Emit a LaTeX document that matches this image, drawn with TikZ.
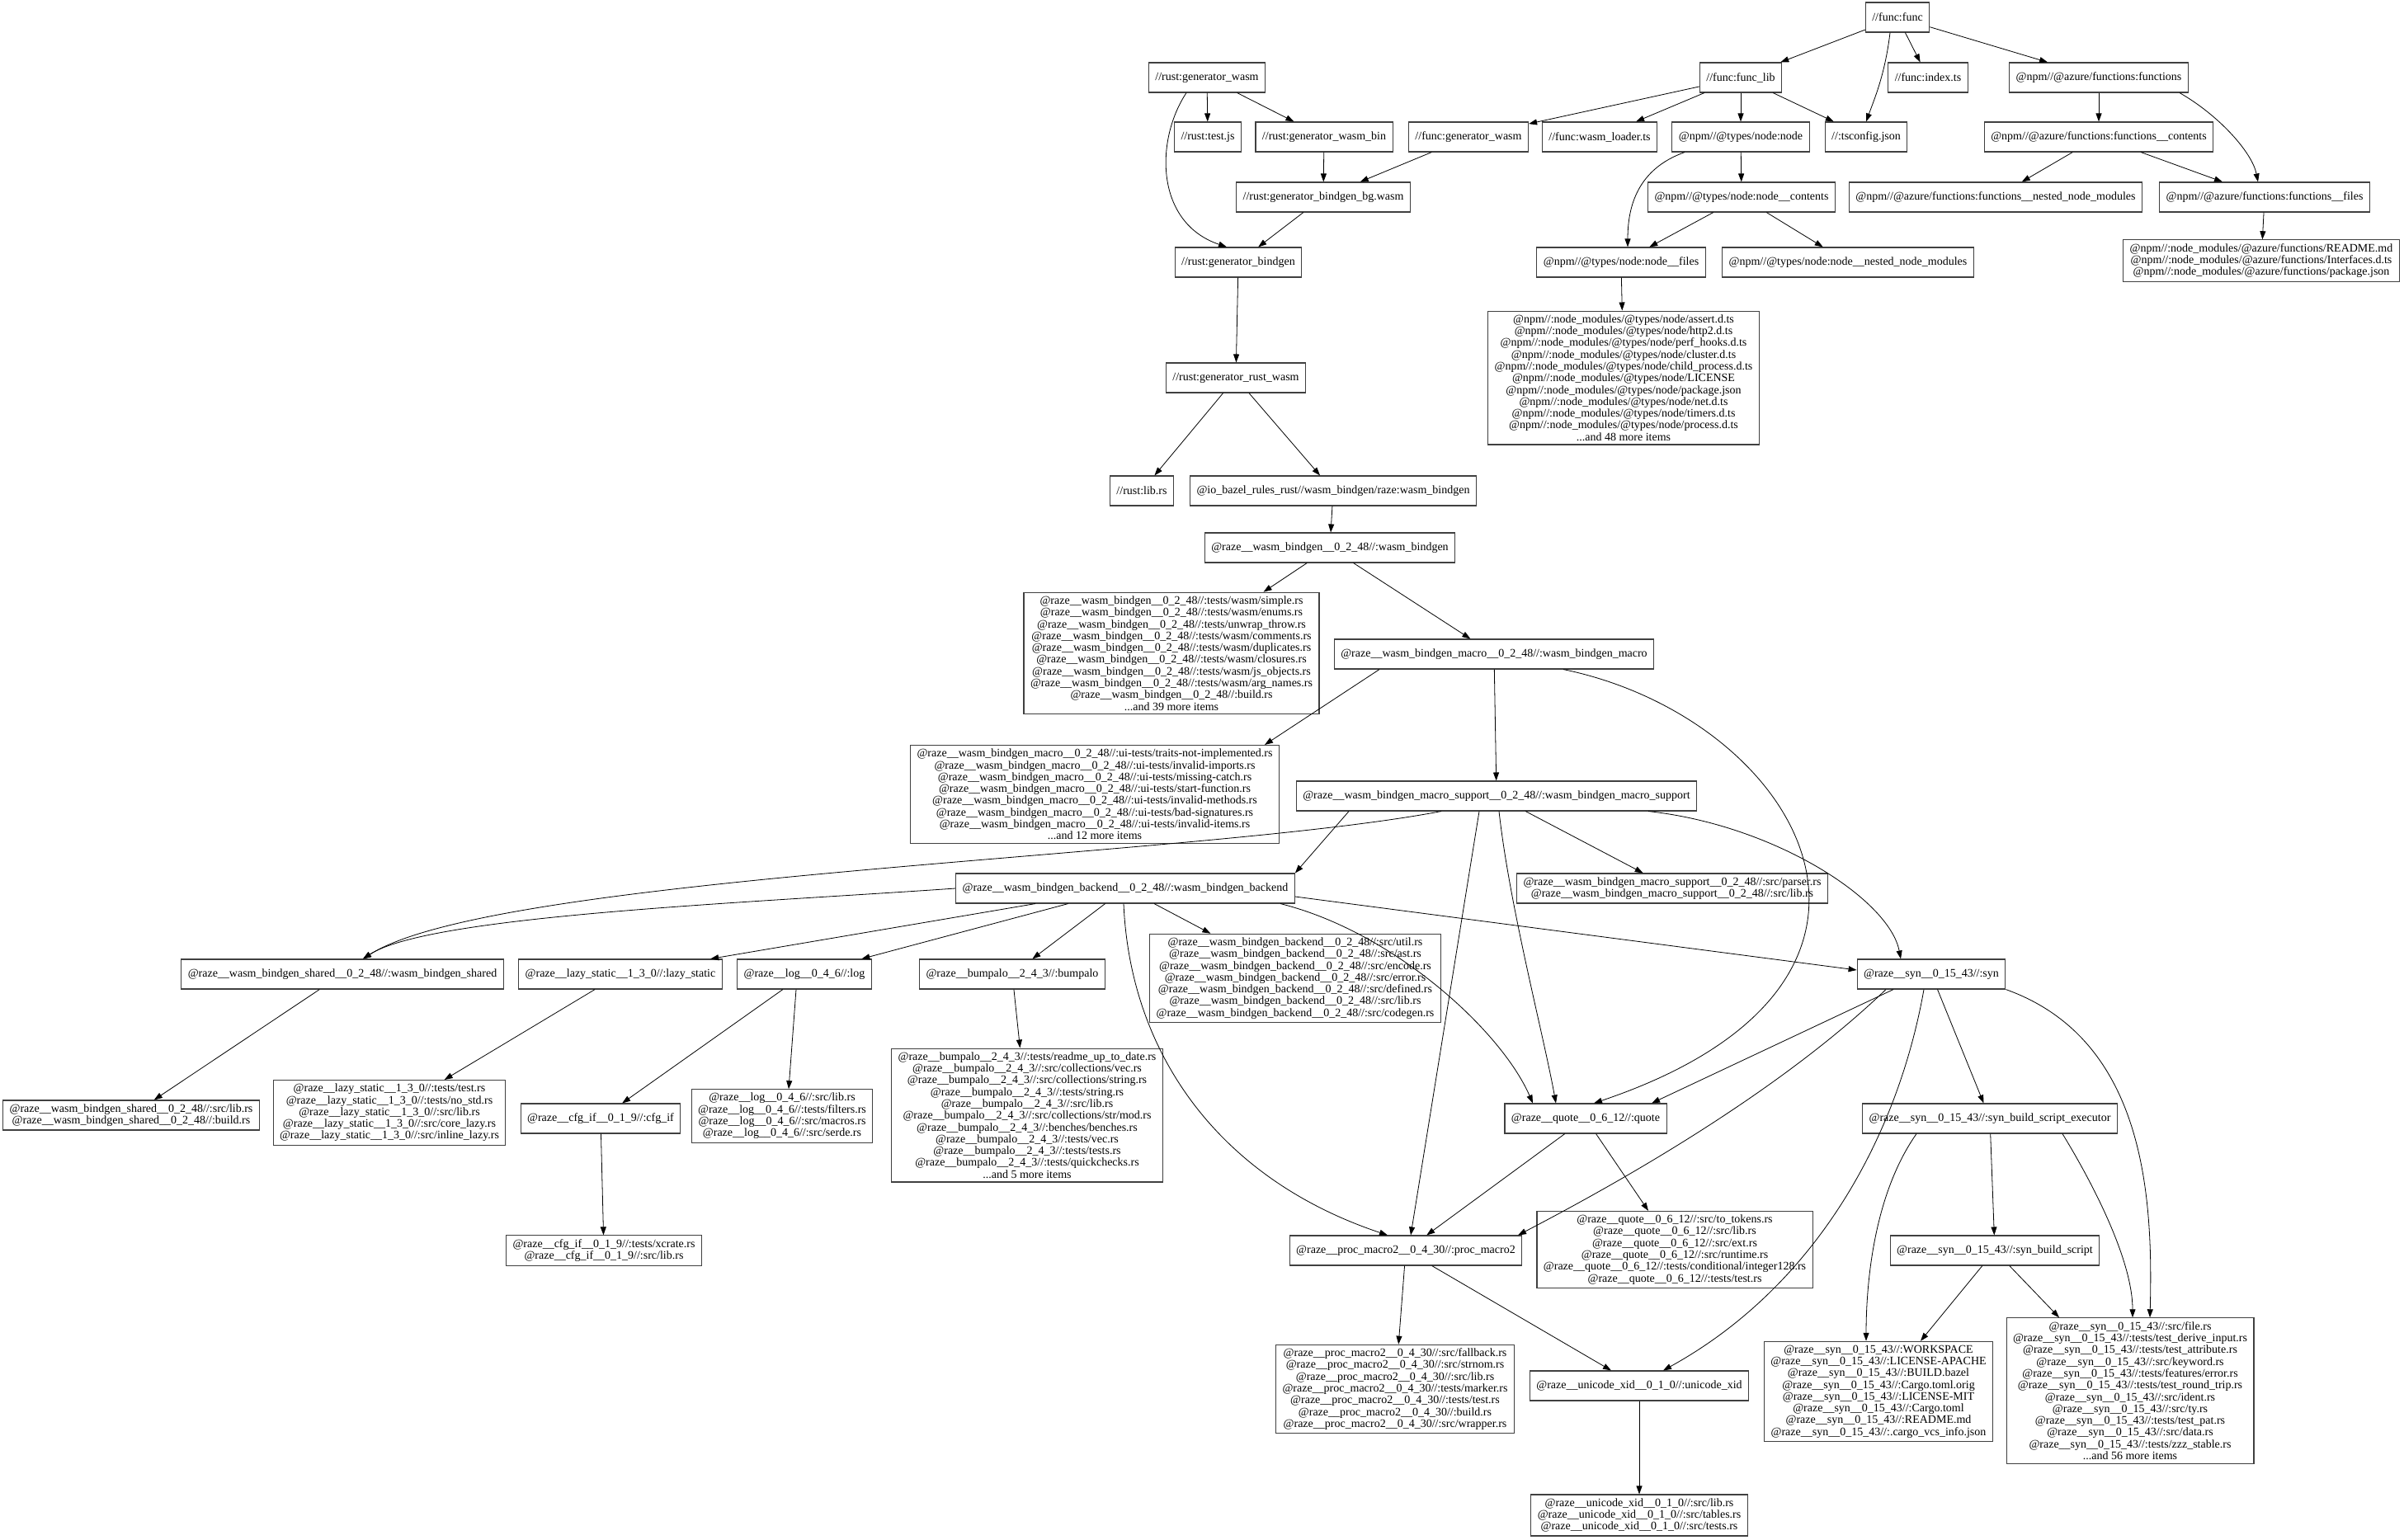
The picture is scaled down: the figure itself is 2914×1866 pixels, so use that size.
\documentclass[tikz,border=0pt]{standalone}
\usepackage{fontspec}
\setmainfont{Liberation Serif}
\usetikzlibrary{arrows.meta}
\newcommand\pwb{@raze\_\_wasm\_bindgen\_\_0\_2\_48//:}
\newcommand\pwbm{@raze\_\_wasm\_bindgen\_macro\_\_0\_2\_48//:}
\newcommand\pwbms{@raze\_\_wasm\_bindgen\_macro\_support\_\_0\_2\_48//:}
\newcommand\pwbb{@raze\_\_wasm\_bindgen\_backend\_\_0\_2\_48//:}
\newcommand\pwbs{@raze\_\_wasm\_bindgen\_shared\_\_0\_2\_48//:}
\newcommand\plazy{@raze\_\_lazy\_static\_\_1\_3\_0//:}
\newcommand\plog{@raze\_\_log\_\_0\_4\_6//:}
\newcommand\pbump{@raze\_\_bumpalo\_\_2\_4\_3//:}
\newcommand\psyn{@raze\_\_syn\_\_0\_15\_43//:}
\newcommand\pcfg{@raze\_\_cfg\_if\_\_0\_1\_9//:}
\newcommand\pquote{@raze\_\_quote\_\_0\_6\_12//:}
\newcommand\ppm{@raze\_\_proc\_macro2\_\_0\_4\_30//:}
\newcommand\puxid{@raze\_\_unicode\_xid\_\_0\_1\_0//:}
\newcommand\pnode{@npm//:node\_modules/@types/node/}
\newcommand\pazure{@npm//:node\_modules/@azure/functions/}
\begin{document}
\begin{tikzpicture}[x=1pt,y=-1pt,
  target/.style={draw=black!75,line width=1.1pt,fill=white,align=center,
    font=\fontsize{14}{14.3}\selectfont,inner xsep=8pt,inner ysep=4.5pt,
    minimum height=36pt,minimum width=54pt},
  dep/.style={-{Triangle[length=10pt,width=7pt]},line width=0.8pt}]
  \useasboundingbox (0,0) rectangle (2914,1866);

  \node[target] (func) at (2300,21) {//func:func};
  \node[target] (funclib) at (2110,94) {//func:func\_lib};
  \node[target] (funcidx) at (2337,94) {//func:index.ts};
  \node[target] (azfn) at (2544,94) {@npm//@azure/functions:functions};
  \node[target] (rgw) at (1463,94) {//rust:generator\_wasm};
  \node[target] (rtest) at (1464,166) {//rust:test.js};
  \node[target] (rbin) at (1605,166) {//rust:generator\_wasm\_bin};
  \node[target] (fgw) at (1780,166) {//func:generator\_wasm};
  \node[target] (fload) at (1939,166) {//func:wasm\_loader.ts};
  \node[target] (ntn) at (2110,166) {@npm//@types/node:node};
  \node[target] (tscfg) at (2262,166) {//:tsconfig.json};
  \node[target] (azcont) at (2544,166) {@npm//@azure/functions:functions\_\_contents};
  \node[target] (rbg) at (1604,239) {//rust:generator\_bindgen\_bg.wasm};
  \node[target] (ntncont) at (2111,239) {@npm//@types/node:node\_\_contents};
  \node[target] (aznest) at (2419,239) {@npm//@azure/functions:functions\_\_nested\_node\_modules};
  \node[target] (azfiles) at (2745,239) {@npm//@azure/functions:functions\_\_files};
  \node[target] (rgb) at (1501,318) {//rust:generator\_bindgen};
  \node[target] (ntnfiles) at (1965,318) {@npm//@types/node:node\_\_files};
  \node[target] (ntnnest) at (2240,318) {@npm//@types/node:node\_\_nested\_node\_modules};
  \node[target] (azlist) at (2741,316) {\pazure README.md\\ \pazure Interfaces.d.ts\\ \pazure package.json};
  \node[target] (ntnlist) at (1968,458) {\pnode assert.d.ts\\ \pnode http2.d.ts\\ \pnode perf\_hooks.d.ts\\
    \pnode cluster.d.ts\\ \pnode child\_process.d.ts\\ \pnode LICENSE\\ \pnode package.json\\
    \pnode net.d.ts\\ \pnode timers.d.ts\\ \pnode process.d.ts\\ ...and 48 more items};
  \node[target] (rrw) at (1498,458) {//rust:generator\_rust\_wasm};
  \node[target] (rlib) at (1384,595) {//rust:lib.rs};
  \node[target] (iobz) at (1616,595) {@io\_bazel\_rules\_rust//wasm\_bindgen/raze:wasm\_bindgen};
  \node[target] (rwb) at (1612,664) {\pwb wasm\_bindgen};
  \node[target] (rwblist) at (1420,792) {\pwb tests/wasm/simple.rs\\ \pwb tests/wasm/enums.rs\\
    \pwb tests/unwrap\_throw.rs\\ \pwb tests/wasm/comments.rs\\ \pwb tests/wasm/duplicates.rs\\
    \pwb tests/wasm/closures.rs\\ \pwb tests/wasm/js\_objects.rs\\ \pwb tests/wasm/arg\_names.rs\\
    \pwb build.rs\\ ...and 39 more items};
  \node[target] (rwbm) at (1811,793) {\pwbm wasm\_bindgen\_macro};
  \node[target] (rwbmlist) at (1327,963) {\pwbm ui-tests/traits-not-implemented.rs\\
    \pwbm ui-tests/invalid-imports.rs\\ \pwbm ui-tests/missing-catch.rs\\ \pwbm ui-tests/start-function.rs\\
    \pwbm ui-tests/invalid-methods.rs\\ \pwbm ui-tests/bad-signatures.rs\\ \pwbm ui-tests/invalid-items.rs\\
    ...and 12 more items};
  \node[target] (rwbms) at (1814,965) {\pwbms wasm\_bindgen\_macro\_support};
  \node[target] (rwbb) at (1364,1077) {\pwbb wasm\_bindgen\_backend};
  \node[target] (rwbmslist) at (2027,1077) {\pwbms src/parser.rs\\ \pwbms src/lib.rs};
  \node[target] (rwbblist) at (1570,1186) {\pwbb src/util.rs\\ \pwbb src/ast.rs\\ \pwbb src/encode.rs\\
    \pwbb src/error.rs\\ \pwbb src/defined.rs\\ \pwbb src/lib.rs\\ \pwbb src/codegen.rs};
  \node[target] (rshared) at (415,1181) {\pwbs wasm\_bindgen\_shared};
  \node[target] (rlazy) at (752,1181) {\plazy lazy\_static};
  \node[target] (rlog) at (975,1181) {\plog log};
  \node[target] (rbump) at (1227,1181) {\pbump bumpalo};
  \node[target] (rsyn) at (2341,1181) {\psyn syn};
  \node[target] (rsharedlist) at (159,1352) {\pwbs src/lib.rs\\ \pwbs build.rs};
  \node[target] (rlazylist) at (472,1349) {\plazy tests/test.rs\\ \plazy tests/no\_std.rs\\ \plazy src/lib.rs\\
    \plazy src/core\_lazy.rs\\ \plazy src/inline\_lazy.rs};
  \node[target] (rloglist) at (948,1353) {\plog src/lib.rs\\ \plog tests/filters.rs\\ \plog src/macros.rs\\ \plog src/serde.rs};
  \node[target] (rcfg) at (728,1356) {\pcfg cfg\_if};
  \node[target] (rbumplist) at (1245,1352) {\pbump tests/readme\_up\_to\_date.rs\\ \pbump src/collections/vec.rs\\
    \pbump src/collections/string.rs\\ \pbump tests/string.rs\\ \pbump src/lib.rs\\
    \pbump src/collections/str/mod.rs\\ \pbump benches/benches.rs\\ \pbump tests/vec.rs\\
    \pbump tests/tests.rs\\ \pbump tests/quickchecks.rs\\ ...and 5 more items};
  \node[target] (rquote) at (1922,1356) {\pquote quote};
  \node[target] (rsbse) at (2412,1356) {\psyn syn\_build\_script\_executor};
  \node[target] (rcfglist) at (732,1516) {\pcfg tests/xcrate.rs\\ \pcfg src/lib.rs};
  \node[target] (rpm2) at (1704,1516) {\ppm proc\_macro2};
  \node[target] (rquotelist) at (2030,1515) {\pquote src/to\_tokens.rs\\ \pquote src/lib.rs\\ \pquote src/ext.rs\\
    \pquote src/runtime.rs\\ \pquote tests/conditional/integer128.rs\\ \pquote tests/test.rs};
  \node[target] (rsbs) at (2418,1516) {\psyn syn\_build\_script};
  \node[target] (rpm2list) at (1691,1684) {\ppm src/fallback.rs\\ \ppm src/strnom.rs\\ \ppm src/lib.rs\\
    \ppm tests/marker.rs\\ \ppm tests/test.rs\\ \ppm build.rs\\ \ppm src/wrapper.rs};
  \node[target] (ruxid) at (1987,1680) {\puxid unicode\_xid};
  \node[target] (rsynmisc) at (2277,1687) {\psyn WORKSPACE\\ \psyn LICENSE-APACHE\\ \psyn BUILD.bazel\\
    \psyn Cargo.toml.orig\\ \psyn LICENSE-MIT\\ \psyn Cargo.toml\\ \psyn README.md\\ \psyn .cargo\_vcs\_info.json};
  \node[target] (rsynsrc) at (2582,1686) {\psyn src/file.rs\\ \psyn tests/test\_derive\_input.rs\\
    \psyn tests/test\_attribute.rs\\ \psyn src/keyword.rs\\ \psyn tests/features/error.rs\\
    \psyn tests/test\_round\_trip.rs\\ \psyn src/ident.rs\\ \psyn src/ty.rs\\ \psyn tests/test\_pat.rs\\
    \psyn src/data.rs\\ \psyn tests/zzz\_stable.rs\\ ...and 56 more items};
  \node[target] (ruxidlist) at (1987,1837) {\puxid src/lib.rs\\ \puxid src/tables.rs\\ \puxid src/tests.rs};

  \draw[dep] (func) -- (funclib);
  \draw[dep] (func) -- (funcidx);
  \draw[dep] ([xshift=-9]func.south) .. controls (2285,90) and (2272,120) .. (tscfg.north);
  \draw[dep] (func) -- (azfn);
  \draw[dep] (rgw) -- (rtest);
  \draw[dep] (rgw) -- (rbin);
  \draw[dep] ([xshift=-25]rgw.south) .. controls (1400,170) and (1400,270) .. ([xshift=-14]rgb.north);
  \draw[dep] (rbin) -- (rbg);
  \draw[dep] (fgw) -- (rbg);
  \draw[dep] (rbg) -- (rgb);
  \draw[dep] (rgb) -- (rrw);
  \draw[dep] (rrw) -- (rlib);
  \draw[dep] (rrw) -- (iobz);
  \draw[dep] (iobz) -- (rwb);
  \draw[dep] (rwb) -- (rwblist);
  \draw[dep] (rwb) -- (rwbm);
  \draw[dep] (funclib) -- (fgw);
  \draw[dep] (funclib) -- (fload);
  \draw[dep] (funclib) -- (ntn);
  \draw[dep] (funclib) -- (tscfg);
  \draw[dep] (ntn) -- (ntncont);
  \draw[dep] ([xshift=-68]ntn.south) .. controls (1985,205) and (1973,250) .. ([xshift=8]ntnfiles.north);
  \draw[dep] (ntncont) -- (ntnfiles);
  \draw[dep] (ntncont) -- (ntnnest);
  \draw[dep] (ntnfiles) -- (ntnlist);
  \draw[dep] (azfn) -- (azcont);
  \draw[dep] ([xshift=98]azfn.south) .. controls (2690,140) and (2730,185) .. ([xshift=-8]azfiles.north);
  \draw[dep] (azcont) -- (aznest);
  \draw[dep] (azcont) -- (azfiles);
  \draw[dep] (azfiles) -- (azlist);
  \draw[dep] ([xshift=-139]rwbm.south) -- ([xshift=206]rwbmlist.north);
  \draw[dep] (rwbm) -- (rwbms);
  \draw[dep] ([xshift=84]rwbm.south) .. controls (2180,870) and (2370,1190) .. ([xshift=10]rquote.north);
  \draw[dep] ([xshift=-67]rwbms.south) .. controls (1450,1040) and (600,1060) .. ([xshift=25]rshared.north);
  \draw[dep] (rwbb.west) .. controls (900,1095) and (520,1110) .. ([xshift=25]rshared.north);
  \draw[dep] ([xshift=-179]rwbms.south) -- (rwbb.north east);
  \draw[dep] (rwbms) -- (rwbmslist);
  \draw[dep] ([xshift=184]rwbms.south) .. controls (2150,1000) and (2290,1090) .. ([xshift=-37]rsyn.north);
  \draw[dep] ([xshift=3]rwbms.south) .. controls (1830,1100) and (1870,1250) .. ([xshift=-36]rquote.north);
  \draw[dep] ([xshift=-21]rwbms.south) -- ([xshift=6]rpm2.north);
  \draw[dep] (rwbb) -- (rlazy);
  \draw[dep] (rwbb) -- (rlog);
  \draw[dep] (rwbb) -- (rbump);
  \draw[dep] (rwbb) -- (rwbblist);
  \draw[dep] ([xshift=-2]rwbb.south) .. controls (1370,1280) and (1480,1430) .. ([xshift=-22]rpm2.north);
  \draw[dep] ([xshift=188]rwbb.south) .. controls (1690,1130) and (1820,1250) .. ([xshift=-64]rquote.north);
  \draw[dep] ([yshift=-10]rwbb.east) -- ([yshift=5]rsyn.west);
  \draw[dep] ([xshift=-46]rsyn.south) -- ([xshift=80]rquote.north);
  \draw[dep] ([xshift=-55]rsyn.south) .. controls (2150,1330) and (1950,1440) .. ([xshift=136]rpm2.north);
  \draw[dep] ([xshift=-9]rsyn.south) .. controls (2300,1380) and (2200,1560) .. ([xshift=29]ruxid.north);
  \draw[dep] (rsyn) -- (rsbse);
  \draw[dep] (rsyn.south east) .. controls (2600,1260) and (2610,1450) .. ([xshift=24]rsynsrc.north);
  \draw[dep] (rquote) -- (rpm2);
  \draw[dep] (rquote) -- (rquotelist);
  \draw[dep] (rpm2) -- (rpm2list);
  \draw[dep] (rpm2) -- ([xshift=-34]ruxid.north);
  \draw[dep] (ruxid) -- (ruxidlist);
  \draw[dep] (rsbse) -- (rsbs);
  \draw[dep] ([xshift=-89]rsbse.south) .. controls (2270,1450) and (2262,1560) .. ([xshift=-15]rsynmisc.north);
  \draw[dep] ([xshift=88]rsbse.south) .. controls (2540,1440) and (2585,1530) .. ([xshift=3]rsynsrc.north);
  \draw[dep] (rsbs) -- ([xshift=51]rsynmisc.north);
  \draw[dep] (rsbs) -- ([xshift=-86]rsynsrc.north);
  \draw[dep] (rlog) -- (rcfg);
  \draw[dep] ([xshift=-10]rlog.south) -- ([xshift=8]rloglist.north);
  \draw[dep] (rcfg) -- (rcfglist);
  \draw[dep] (rlazy) -- (rlazylist);
  \draw[dep] (rshared) -- (rsharedlist);
  \draw[dep] (rbump) -- (rbumplist);
\end{tikzpicture}
\end{document}
